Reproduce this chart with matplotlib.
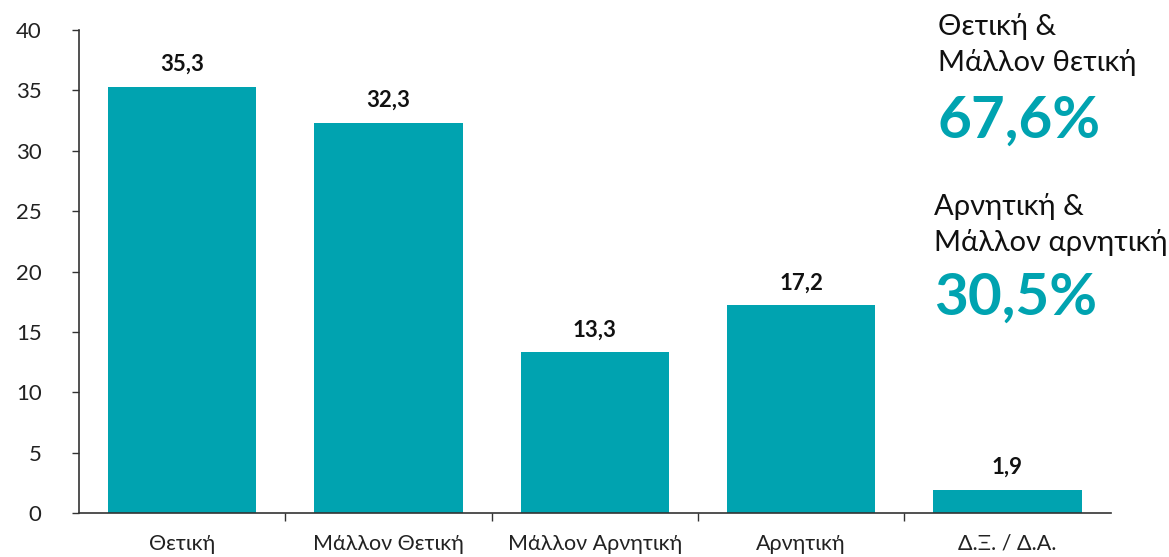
import matplotlib.pyplot as plt
import numpy as np

plt.rcParams['font.family'] = ['Lato', 'Noto Sans', 'DejaVu Sans']

categories = ["Θετική", "Μάλλον Θετική", "Μάλλον Αρνητική", "Αρνητική", "Δ.Ξ. / Δ.Α."]
values = [35.3, 32.3, 13.3, 17.2, 1.9]
value_labels = ["35,3", "32,3", "13,3", "17,2", "1,9"]
summary_titles = ["Θετική &\nΜάλλον θετική", "Αρνητική &\nΜάλλον αρνητική"]
summary_values = ["67,6%", "30,5%"]

TEAL = "#00A3B0"
AXC = "#333333"

fig = plt.figure(figsize=(11.69, 5.57), dpi=100)
ax = fig.add_axes([0.0676, 0.079, 0.8824, 0.867])

x = np.arange(len(categories))
ax.bar(x, values, width=0.72, color=TEAL, zorder=2)
for xi, v, lab in zip(x, values, value_labels):
    ax.text(xi, v + 1.0, lab, ha="center", va="bottom", fontsize=16,
            fontweight="bold", color="#111111")

ax.set_xlim(-0.5, len(categories) - 0.5)
ax.set_ylim(0, 40)
ax.set_yticks(range(0, 41, 5))
ax.tick_params(axis="y", labelsize=16, colors=AXC, length=5, width=1, pad=22,
               labelcolor="#222222")
ax.set_xticks(x)
ax.set_xticklabels(categories, fontsize=15.5, color="#222222")
ax.tick_params(axis="x", length=0, pad=15)
ax.set_xticks(np.arange(0.5, len(categories) - 0.5, 1), minor=True)
ax.tick_params(axis="x", which="minor", length=6, width=1, colors=AXC)
for s in ["top", "right"]:
    ax.spines[s].set_visible(False)
for s in ["left", "bottom"]:
    ax.spines[s].set_color(AXC)
    ax.spines[s].set_linewidth(1.2)

fig.text(938 / 1169, 1 - 13 / 557, summary_titles[0], ha="left", va="top",
         fontsize=21, color="#111111", linespacing=1.4)
fig.text(937 / 1169, 1 - 138 / 557, summary_values[0], ha="left", va="baseline",
         fontsize=42, fontweight="bold", color=TEAL)
fig.text(934 / 1169, 1 - 193 / 557, summary_titles[1], ha="left", va="top",
         fontsize=21, color="#111111", linespacing=1.4)
fig.text(934 / 1169, 1 - 315 / 557, summary_values[1], ha="left", va="baseline",
         fontsize=42, fontweight="bold", color=TEAL)

fig.savefig("out.png", dpi=100)
